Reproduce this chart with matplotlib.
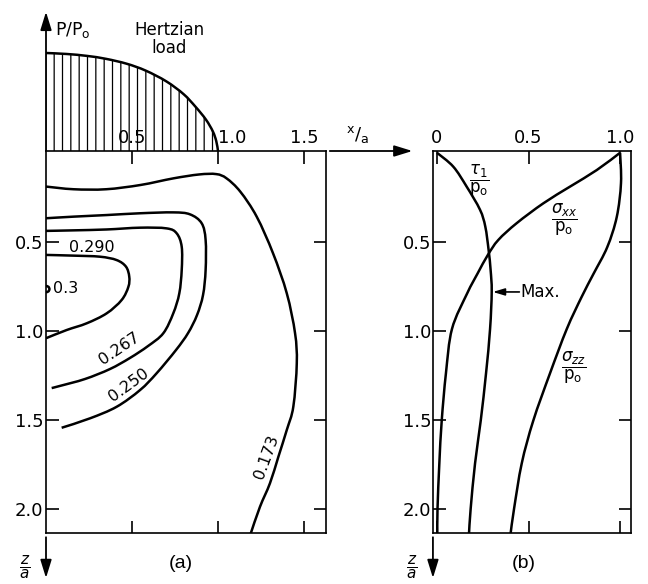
import matplotlib.pyplot as plt
from matplotlib.path import Path
from matplotlib.patches import PathPatch

plt.rcParams['font.family'] = ['DejaVu Sans']
plt.rcParams['mathtext.fontset'] = 'dejavusans'
plt.rcParams['hatch.linewidth'] = 0.9

#%% data
# Hertzian pressure p/p0 against x/a
load_x = [0, 0.12, 0.24, 0.35, 0.47, 0.58, 0.70, 0.80, 0.87, 0.93, 0.97, 0.99, 1.0]
load_p = [1.0, 0.99, 0.97, 0.94, 0.89, 0.82, 0.71, 0.58, 0.45, 0.32, 0.20, 0.10, 0.0]

# contours of tau1/p0 below the contact, (x/a, z/a)
c173_x = [0.0, 0.16, 0.35, 0.55, 0.74, 0.89, 0.99, 1.05, 1.13, 1.225, 1.32, 1.40, 1.448,
          1.458, 1.438, 1.40, 1.351, 1.302, 1.244, 1.19]
c173_z = [0.19, 0.205, 0.205, 0.181, 0.144, 0.122, 0.12, 0.144, 0.219, 0.359, 0.565, 0.79, 1.014,
          1.183, 1.426, 1.557, 1.708, 1.857, 1.989, 2.14]
c250_x = [0.0, 0.16, 0.353, 0.547, 0.74, 0.837, 0.905, 0.928, 0.928, 0.913, 0.878, 0.826,
          0.756, 0.643, 0.547, 0.411, 0.256, 0.091]
c250_z = [0.368, 0.359, 0.350, 0.340, 0.335, 0.346, 0.396, 0.490, 0.659, 0.799, 0.912, 1.013,
          1.108, 1.239, 1.333, 1.427, 1.492, 1.545]
c267_x = [0.0, 0.159, 0.353, 0.547, 0.702, 0.76, 0.789, 0.789, 0.775, 0.740, 0.682, 0.593,
          0.488, 0.372, 0.227, 0.081, 0.033]
c267_z = [0.439, 0.436, 0.431, 0.421, 0.425, 0.453, 0.528, 0.659, 0.790, 0.902, 1.014, 1.086,
          1.153, 1.215, 1.271, 1.310, 1.322]
c290_x = [0.0, 0.159, 0.314, 0.411, 0.465, 0.484, 0.479, 0.440, 0.353, 0.237, 0.120, 0.0]
c290_z = [0.574, 0.578, 0.584, 0.603, 0.640, 0.696, 0.753, 0.827, 0.902, 0.958, 0.996, 1.042]
c300_x = [0.0, 0.014, 0.02, 0.014, 0.0]
c300_z = [0.748, 0.753, 0.766, 0.779, 0.784]
contours = [(c173_x, c173_z), (c250_x, c250_z), (c267_x, c267_z), (c290_x, c290_z), (c300_x, c300_z)]
contour_labels = ['0.173', '0.250', '0.267', '0.290', '0.3']

# stresses along the axis of symmetry (b), value/p0 against z/a
tau_z = [0.0, 0.078, 0.19, 0.32, 0.415, 0.546, 0.659, 0.78, 0.99, 1.239, 1.505, 1.745, 2.0, 2.14]
tau_v = [0.0, 0.089, 0.162, 0.235, 0.264, 0.282, 0.293, 0.299, 0.29, 0.268, 0.239, 0.208, 0.184, 0.175]
sxx_z = [0.0, 0.097, 0.19, 0.284, 0.396, 0.49, 0.574, 0.678, 0.79, 0.99, 1.239, 1.505, 1.745, 2.0, 2.14]
sxx_v = [1.0, 0.873, 0.727, 0.581, 0.435, 0.335, 0.278, 0.222, 0.165, 0.082, 0.049, 0.026, 0.013, 0.003, 0.002]
szz_z = [0.0, 0.17, 0.36, 0.53, 0.68, 0.81, 0.99, 1.24, 1.505, 1.745, 2.0, 2.14]
szz_v = [1.0, 1.005, 0.982, 0.93, 0.855, 0.79, 0.709, 0.617, 0.526, 0.463, 0.421, 0.402]

x_ticks_a = [0.5, 1.0, 1.5]
x_ticks_b = [0, 0.5, 1.0]
z_ticks = [0.5, 1.0, 1.5, 2.0]


def smooth_path(xs, ys):
    # Catmull-Rom through the read points, drawn as cubic Bezier segments
    pts = list(zip(xs, ys))
    verts = [pts[0]]
    codes = [Path.MOVETO]
    n = len(pts)
    for i in range(n - 1):
        p0, p1 = pts[max(i - 1, 0)], pts[i]
        p2, p3 = pts[i + 1], pts[min(i + 2, n - 1)]
        c1 = (p1[0] + (p2[0] - p0[0]) / 6, p1[1] + (p2[1] - p0[1]) / 6)
        c2 = (p2[0] - (p3[0] - p1[0]) / 6, p2[1] - (p3[1] - p1[1]) / 6)
        verts += [c1, c2, p2]
        codes += [Path.CURVE4] * 3
    return verts, codes


def curve(ax, xs, ys, lw=1.8):
    verts, codes = smooth_path(xs, ys)
    ax.add_patch(PathPatch(Path(verts, codes), facecolor='none', edgecolor='k', lw=lw,
                           capstyle='butt'))


#%% figure, laid out in pixels of the 648x584 picture
W, H = 648.0, 584.0
fig = plt.figure(figsize=(6.48, 5.84), dpi=100)
zlim = ((533 - 152.75) / 178, (151 - 152.75) / 178)
arr = dict(arrowstyle='-|>,head_length=0.55,head_width=0.17', color='k', lw=1.3,
           mutation_scale=20, shrinkA=0, shrinkB=0)
tsize = 13

# load diagram
ax_l = fig.add_axes([46 / W, 1 - 151 / H, 280 / W, 151 / H])
ax_l.set_xlim(0, 280 / 172)
ax_l.set_ylim(0, 151 / 98)
ax_l.axis('off')
v, c = smooth_path(load_x, load_p)
v = v + [(0, 0), (0, 0)]
c = c + [Path.LINETO, Path.CLOSEPOLY]
ax_l.add_patch(PathPatch(Path(v, c), facecolor='none', edgecolor='k', hatch='||', lw=0))
curve(ax_l, load_x, load_p)
ax_l.annotate('', xy=(0, 1.42), xytext=(0, 0), arrowprops=arr, annotation_clip=False)
ax_l.annotate('', xy=(2.13, 0), xytext=(1.65, 0), arrowprops=arr, annotation_clip=False)
ax_l.text(0.05, 1.235, r'$\mathregular{P/P_o}$', ha='left', va='center', fontsize=12.5)
ax_l.text(0.715, 1.14, 'Hertzian\nload', ha='center', va='center', fontsize=12, linespacing=1.0)
ax_l.text(1.81, 0.17, r'$\mathregular{^x/_a}$', ha='center', va='center', fontsize=13)

# (a) contours
ax_a = fig.add_axes([46 / W, 1 - 533 / H, 280 / W, 382 / H])
ax_a.set_xlim(0, 280 / 172)
ax_a.set_ylim(*zlim)
for cx, cz in contours:
    curve(ax_a, cx, cz)
lab_pos = [(1.283, 1.708, 70), (0.483, 1.305, 36), (0.424, 1.10, 34), (0.266, 0.531, 0), (0.115, 0.762, 0)]
for txt, (lx, lz, rot) in zip(contour_labels, lab_pos):
    ax_a.text(lx, lz, txt, ha='center', va='center', rotation=rot, fontsize=11.5,
              rotation_mode='anchor')
ax_a.set_xticks(x_ticks_a)
ax_a.set_xticklabels(['0.5', '1.0', '1.5'])
ax_a.set_yticks(z_ticks)
ax_a.set_yticklabels(['0.5', '1.0', '1.5', '2.0'])
ax_a.tick_params(axis='x', direction='in', top=True, bottom=True, labeltop=True,
                 labelbottom=False, length=9, width=1.2, pad=3, labelsize=tsize)
ax_a.tick_params(axis='y', direction='in', left=True, right=True, length=9, width=1.2,
                 pad=2, labelsize=tsize)
ax_a.get_xticklabels()[1].set_ha('left')
ax_a.text(-0.122, 2.33, r'$\dfrac{z}{a}$', ha='center', va='center', fontsize=11)
ax_a.annotate('', xy=(0, 2.389), xytext=(0, 2.16), arrowprops=arr, annotation_clip=False)
ax_a.text(0.785, 2.31, '(a)', ha='center', va='center', fontsize=14, family='Liberation Sans')

# (b) stresses on the axis
ax_b = fig.add_axes([433.3 / W, 1 - 533 / H, 197.4 / W, 382 / H])
ax_b.set_xlim(-0.02, 1.058)
ax_b.set_ylim(*zlim)
curve(ax_b, tau_v, tau_z)
curve(ax_b, sxx_v, sxx_z)
curve(ax_b, szz_v, szz_z)
ax_b.text(0.23, 0.16, r'$\dfrac{\tau_1}{\mathrm{p_o}}$', ha='center', va='center', fontsize=12)
ax_b.text(0.694, 0.378, r'$\dfrac{\sigma_{xx}}{\mathrm{p_o}}$', ha='center', va='center', fontsize=12)
ax_b.text(0.745, 1.21, r'$\dfrac{\sigma_{zz}}{\mathrm{p_o}}$', ha='center', va='center', fontsize=12)
ax_b.annotate('', xy=(0.305, 0.782), xytext=(0.45, 0.782),
              arrowprops=dict(arrowstyle='-|>,head_length=0.5,head_width=0.15', color='k',
                              lw=1.2, mutation_scale=14, shrinkA=0, shrinkB=0))
ax_b.text(0.455, 0.782, 'Max.', ha='left', va='center', fontsize=12)
ax_b.set_xticks(x_ticks_b)
ax_b.set_xticklabels(['0', '0.5', '1.0'])
ax_b.set_yticks(z_ticks)
ax_b.set_yticklabels(['0.5', '1.0', '1.5', '2.0'])
ax_b.tick_params(axis='x', direction='in', top=True, bottom=True, labeltop=True,
                 labelbottom=False, length=9, width=1.2, pad=3, labelsize=tsize)
ax_b.tick_params(axis='y', direction='in', left=True, right=True, length=9, width=1.2,
                 pad=1.5, labelsize=tsize)
ax_b.text(-0.137, 2.33, r'$\dfrac{z}{a}$', ha='center', va='center', fontsize=11)
ax_b.annotate('', xy=(-0.022, 2.389), xytext=(-0.022, 2.16), arrowprops=arr, annotation_clip=False)
ax_b.text(0.473, 2.31, '(b)', ha='center', va='center', fontsize=14, family='Liberation Sans')

for ax in (ax_a, ax_b):
    for sp in ax.spines.values():
        sp.set_linewidth(1.2)

plt.savefig('out.png', dpi=100)
